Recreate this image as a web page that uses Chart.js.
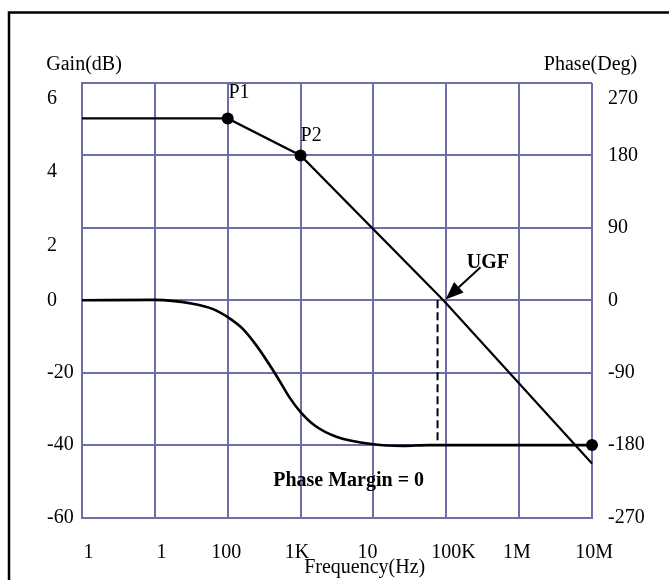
<!DOCTYPE html>
<html>
<head>
<meta charset="utf-8">
<title>Bode plot</title>
<script src="https://cdn.jsdelivr.net/npm/chart.js@4"></script>
<style>
  html, body { margin: 0; padding: 0; background: #fff; }
</style>
</head>
<body>
<canvas id="bodeChart" width="669" height="580"></canvas>
<script>
// x = frequency in decades above 1 Hz, y = shared vertical scale (phase degrees)
const freqLabels = ["1", "1", "100", "1K", "10", "100K", "1M", "10M"];
const freqLabelPos = [0.09, 1.09, 1.98, 2.95, 3.92, 5.1, 5.97, 7.03];
const gainLabels = ["-60", "-40", "-20", "0", "2", "4", "6"];
const gainLabelPos = [-270, -180, -90, 0, 68, 160, 250];
const phaseLabels = ["-270", "-180", "-90", "0", "90", "180", "270"];
const phaseLabelPos = [-270, -180, -90, 0, 90, 180, 250];

const gainX = [0, 2, 3, 4.96, 7];
const gainY = [226, 226, 180, 0, -203];
const phaseX = [0, 1, 1.5, 1.8, 2, 2.2, 2.4, 2.65, 2.85, 3, 3.2, 3.5, 4, 4.4, 4.76, 7];
const phaseY = [0, 0.5, -4, -11, -21, -35, -57, -91, -121, -139, -156, -170, -179, -181, -180, -180];
const ugfX = [4.88, 4.88];
const ugfY = [0, -180];

const serif = "'Liberation Serif', 'Times New Roman', serif";
const gridColor = "#6e6eaa";
const tickFont = { family: serif, size: 20 };

function pts(xs, ys) {
  return xs.map((x, i) => ({ x: x, y: ys[i] }));
}

const notesPlugin = {
  id: "notes",
  beforeDraw(chart) {
    const c = chart.ctx;
    c.save();
    c.fillStyle = "#fff";
    c.fillRect(0, 0, chart.width, chart.height);
    // outer frame, only left and top edges are visible
    c.strokeStyle = "#000";
    c.lineWidth = 2.5;
    c.beginPath();
    c.moveTo(9, chart.height + 5);
    c.lineTo(9, 12.5);
    c.lineTo(chart.width + 5, 12.5);
    c.stroke();
    c.restore();
  },
  afterDatasetsDraw(chart) {
    const c = chart.ctx;
    const xs = chart.scales.x;
    const ys = chart.scales.y;
    const px = (v) => xs.getPixelForValue(v);
    const py = (v) => ys.getPixelForValue(v);

    function text(str, x, y, align, bold) {
      c.font = (bold ? "bold " : "") + "20px " + serif;
      c.fillStyle = "#000";
      c.textAlign = align;
      c.textBaseline = "middle";
      c.fillText(str, px(x), py(y));
    }

    c.save();
    text("Gain(dB)", -0.49, 293, "left");
    text("Phase(Deg)", 7.62, 293, "right");
    text("P1", 2.01, 258, "left");
    text("P2", 3.0, 205, "left");
    text("UGF", 5.57, 46, "center", true);
    text("Phase Margin = 0", 3.66, -224, "center", true);
    text("Frequency(Hz)", 3.88, -333, "center");

    // arrow pointing at the unity gain crossing
    const tx = px(4.99), ty = py(1);
    const sx = px(5.47), sy = py(41);
    const ang = Math.atan2(ty - sy, tx - sx);
    const len = 18, half = 7;
    const bx = tx - len * Math.cos(ang), by = ty - len * Math.sin(ang);
    c.strokeStyle = "#000";
    c.lineWidth = 2;
    c.beginPath();
    c.moveTo(sx, sy);
    c.lineTo(bx, by);
    c.stroke();
    c.fillStyle = "#000";
    c.beginPath();
    c.moveTo(tx, ty);
    c.lineTo(bx + half * Math.sin(ang), by - half * Math.cos(ang));
    c.lineTo(bx - half * Math.sin(ang), by + half * Math.cos(ang));
    c.closePath();
    c.fill();
    c.restore();
  }
};

const canvas = document.getElementById("bodeChart");
new Chart(canvas, {
  type: "line",
  data: {
    datasets: [
      {
        label: "Gain",
        data: pts(gainX, gainY),
        borderColor: "#000",
        borderWidth: 2.2,
        pointRadius: [0, 6, 6, 0, 0],
        pointBackgroundColor: "#000",
        pointBorderWidth: 0,
        clip: false,
        xAxisID: "x",
        yAxisID: "y",
      },
      {
        label: "Phase",
        data: pts(phaseX, phaseY),
        borderColor: "#000",
        borderWidth: 2.6,
        cubicInterpolationMode: "monotone",
        pointRadius: phaseX.map((v, i) => (i === phaseX.length - 1 ? 6 : 0)),
        pointBackgroundColor: "#000",
        pointBorderWidth: 0,
        clip: false,
        xAxisID: "x",
        yAxisID: "y",
      },
      {
        label: "UGF marker",
        data: pts(ugfX, ugfY),
        borderColor: "#000",
        borderWidth: 2,
        borderDash: [8, 4],
        pointRadius: 0,
        clip: false,
        xAxisID: "x",
        yAxisID: "y",
      },
    ],
  },
  options: {
    responsive: false,
    animation: false,
    layout: { padding: { left: 47, top: 83, right: 0, bottom: 0 } },
    plugins: {
      legend: { display: false },
      tooltip: { enabled: false },
    },
    scales: {
      x: {
        type: "linear",
        position: "bottom",
        min: 0,
        max: 7,
        ticks: { stepSize: 1, display: false },
        grid: { color: gridColor, lineWidth: 2, drawTicks: false },
        border: { color: gridColor, width: 2 },
        afterFit: (s) => { s.height = 0; },
      },
      xLab: {
        type: "linear",
        position: "bottom",
        min: 0,
        max: 7,
        afterBuildTicks: (s) => { s.ticks = freqLabelPos.map((v) => ({ value: v })); },
        ticks: {
          autoSkip: false,
          maxRotation: 0,
          padding: 23,
          color: "#000",
          font: tickFont,
          callback: (v, i) => freqLabels[i],
        },
        grid: { display: false, drawTicks: false },
        border: { display: false },
        afterFit: (s) => { s.height = 62.5; },
      },
      y: {
        type: "linear",
        position: "left",
        min: -270,
        max: 270,
        ticks: { stepSize: 90, display: false },
        grid: { color: gridColor, lineWidth: 2, drawTicks: false },
        border: { color: gridColor, width: 2 },
        afterFit: (s) => { s.width = 0; },
      },
      yGain: {
        type: "linear",
        position: "left",
        min: -270,
        max: 270,
        afterBuildTicks: (s) => { s.ticks = gainLabelPos.map((v) => ({ value: v })); },
        ticks: {
          crossAlign: "far",
          padding: 0,
          color: "#000",
          font: tickFont,
          callback: (v, i) => gainLabels[i],
        },
        grid: { display: false, drawTicks: false },
        border: { display: false },
        afterFit: (s) => { s.width = 35; },
      },
      yPhase: {
        type: "linear",
        position: "right",
        min: -270,
        max: 270,
        afterBuildTicks: (s) => { s.ticks = phaseLabelPos.map((v) => ({ value: v })); },
        ticks: {
          crossAlign: "near",
          padding: 16,
          color: "#000",
          font: tickFont,
          callback: (v, i) => phaseLabels[i],
        },
        grid: { display: false, drawTicks: false },
        border: { display: false },
        afterFit: (s) => { s.width = 77; },
      },
    },
  },
  plugins: [notesPlugin],
});
</script>
</body>
</html>
